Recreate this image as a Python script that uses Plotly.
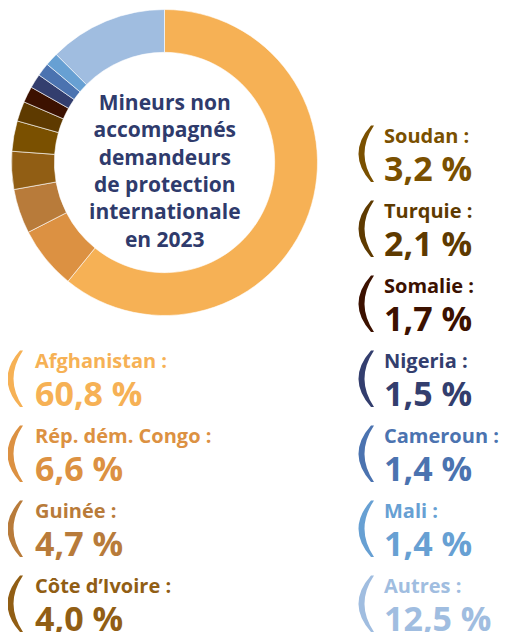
import plotly.graph_objects as go

W, H = 509, 632
OFF = 8  # page body margin offset

countries = ["Afghanistan", "Rép. dém. Congo", "Guinée", "Côte d’Ivoire", "Soudan",
             "Turquie", "Somalie", "Nigeria", "Cameroun", "Mali", "Autres"]
shares = [60.8, 6.6, 4.7, 4.0, 3.2, 2.1, 1.7, 1.5, 1.4, 1.4, 12.5]
colors = ["#F6B155", "#DC9142", "#B87B3A", "#915E14", "#7A5000",
          "#5E3A00", "#3C1100", "#333E6E", "#4B73B0", "#67A0D3", "#A0BDE0"]
title_lines = ["Mineurs non", "accompagnés", "demandeurs", "de protection",
               "internationale", "en 2023"]

FONT = "Open Sans"
NAVY = "#2F3B6C"

def px(x, y):
    """page pixel -> paper coords"""
    return (x - OFF) / W, 1 - (y - OFF) / H

# pie geometry (page pixels)
cx, cy, R = 164.5, 162.5, 153
x0p, y1p = px(cx - R, cy - R)
x1p, y0p = px(cx + R, cy + R)

fig = go.Figure(go.Pie(
    labels=countries, values=shares, sort=False, direction="clockwise",
    rotation=0, hole=0.72, textinfo="none", hoverinfo="label+percent",
    marker=dict(colors=colors, line=dict(color="white", width=0.6)),
    domain=dict(x=[x0p, x1p], y=[y0p, y1p]),
    showlegend=False,
))

annotations = []
shapes = []
tx, ty = px(cx, 170)
annotations.append(dict(
    x=tx, y=ty, xref="paper", yref="paper", xanchor="center", yanchor="middle",
    text="<br>".join(title_lines), showarrow=False, align="center",
    font=dict(family=FONT, size=21, color=NAVY, weight="bold"),
))


def bracket_path(xe, yt, yb):
    """crescent-shaped '(' drawn as a filled path, given page pixels"""
    ym = (yt + yb) / 2
    pts = {
        "o0": px(xe - 1, yt), "oc": px(xe - 26, ym), "o1": px(xe - 1, yb),
        "i1": px(xe + 2, yb), "ic": px(xe - 17, ym), "i0": px(xe + 2, yt),
    }
    f = lambda p: f"{p[0]:.5f},{p[1]:.5f}"
    return (f"M{f(pts['o0'])} Q{f(pts['oc'])} {f(pts['o1'])} L{f(pts['i1'])} "
            f"Q{f(pts['ic'])} {f(pts['i0'])} Z")


ROW0, STEP = 128, 75
n_left = 4
for i, (name, val, col) in enumerate(zip(countries, shares, colors)):
    if i < n_left:
        row = 3 + i
        xt, xe = 33, 21
    else:
        row = i - n_left
        xt, xe = 382, 372
    top = ROW0 + STEP * row
    val_txt = f"{val:.1f}".replace(".", ",") + " %"
    xx, ym = px(xt, top + 28.5)
    text = (f"<span style='font-size:20px'>{name} :</span><br>"
            f"<span style='font-size:34px'>{val_txt}</span>")
    annotations.append(dict(x=xx, y=ym, xref="paper", yref="paper", xanchor="left",
                            yanchor="middle", text=text, showarrow=False, align="left",
                            font=dict(family=FONT, size=29.2, color=col, weight="bold")))
    shapes.append(dict(type="path", xref="paper", yref="paper",
                       path=bracket_path(xe, top - 2.5, top + 54),
                       fillcolor=col, line=dict(width=0), layer="above"))

fig.update_layout(
    width=W, height=H, margin=dict(l=0, r=0, t=0, b=0),
    paper_bgcolor="white", plot_bgcolor="white",
    annotations=annotations, shapes=shapes,
)

fig.write_html("out.html")
